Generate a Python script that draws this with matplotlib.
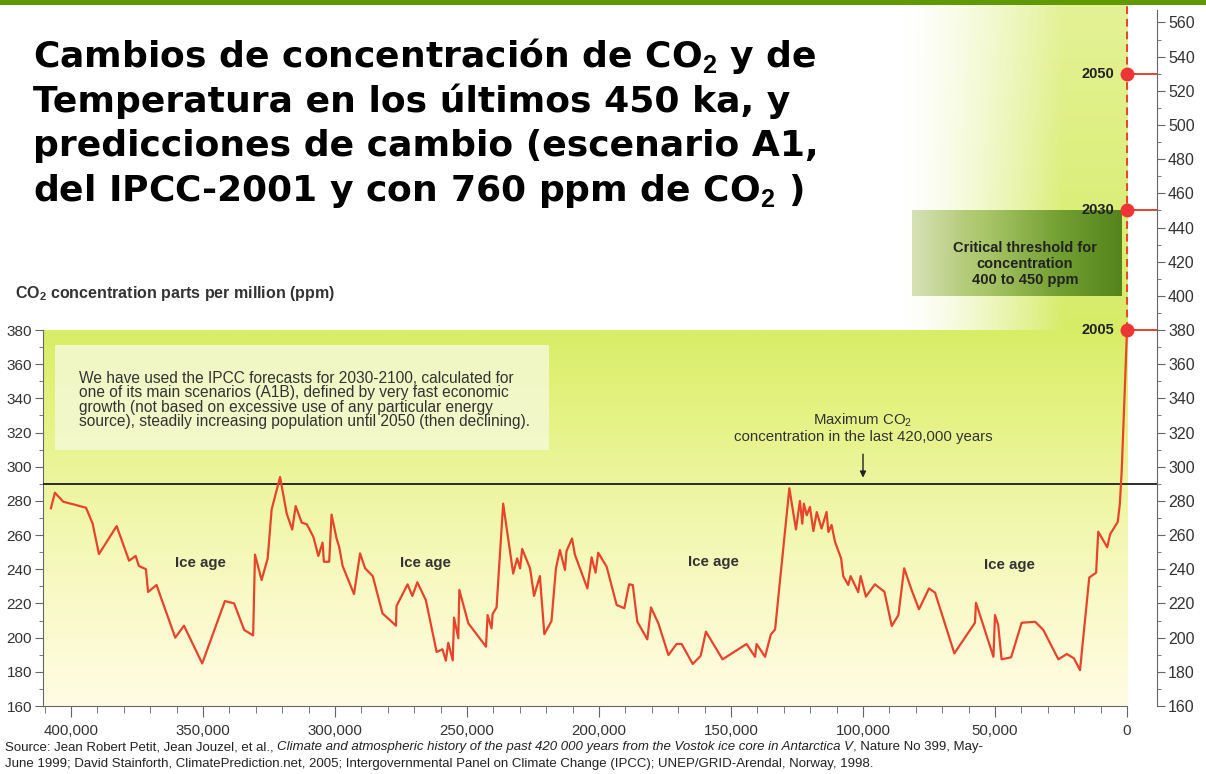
import numpy as np
import matplotlib.pyplot as plt
from matplotlib.patches import Rectangle
from matplotlib.ticker import FuncFormatter

plt.rcParams['font.family'] = ['Liberation Sans', 'DejaVu Sans']
plt.rcParams['mathtext.fontset'] = 'custom'
plt.rcParams['mathtext.rm'] = 'Liberation Sans'
plt.rcParams['mathtext.bf'] = 'Liberation Sans:bold'

# CO2 Vostok: miles de años antes del presente y ppm
kyr = [407.6, 406.1, 402.9, 399.1, 394.3, 391.8, 389.4, 382.7, 378.0, 375.5,
       374.3, 371.6, 370.8, 367.6, 360.5, 357.2, 350.3, 341.7, 338.2, 334.4,
       331.0, 330.3, 327.8, 325.5, 324.0, 320.8, 318.3, 316.2, 314.9, 312.6,
       310.7, 308.2, 306.3, 304.7, 304.2, 302.2, 301.3, 299.4, 298.4, 297.1,
       292.8, 290.5, 288.6, 285.7, 282.0, 276.9, 276.7, 272.5, 270.7, 268.8,
       265.6, 261.5, 259.3, 258.0, 257.1, 255.4, 254.9, 253.3, 252.9, 249.5,
       242.8, 242.2, 240.7, 240.3, 238.8, 236.3, 232.5, 231.0, 229.9, 229.1,
       226.1, 224.6, 222.4, 220.7, 218.0, 216.3, 214.8, 212.9, 212.3, 210.2,
       209.1, 204.4, 202.8, 201.3, 200.3, 197.1, 193.3, 190.4, 188.6, 187.2,
       185.5, 181.7, 180.3, 177.5, 173.7, 170.6, 168.7, 164.5, 161.5, 159.5,
       153.2, 144.1, 140.9, 140.3, 137.1, 134.9, 133.3, 127.9, 125.4, 123.9,
       123.0, 122.4, 121.3, 120.1, 118.8, 117.5, 115.7, 113.8, 113.1, 111.9,
       110.6, 108.3, 107.5, 105.6, 104.7, 101.8, 100.9, 98.9, 95.5, 91.9,
       89.1, 86.6, 84.4, 81.6, 78.8, 75.0, 72.7, 65.4, 57.6, 57.2,
       50.6, 50.0, 48.8, 47.5, 43.9, 39.9, 34.8, 31.7, 26.0, 22.8,
       20.1, 17.8, 14.3, 11.7, 10.9, 7.5, 6.4, 3.5, 2.7, 2.0, 0.0]
co2 = [275.7, 284.8, 279.5, 278.0, 276.0, 266.7, 248.9, 265.3, 245.0, 247.8,
       242.0, 240.0, 226.7, 230.8, 200.0, 207.0, 184.9, 221.4, 220.0, 204.5,
       201.3, 248.6, 233.7, 246.4, 275.0, 294.0, 272.7, 263.2, 277.0, 267.3,
       266.4, 259.0, 247.8, 255.6, 244.4, 244.4, 272.0, 258.0, 253.0, 241.9,
       225.5, 249.3, 240.6, 236.0, 214.2, 207.0, 218.5, 231.2, 224.4, 232.4,
       222.0, 191.6, 193.2, 186.5, 197.0, 186.7, 211.7, 199.6, 227.9, 208.4,
       194.7, 213.2, 205.4, 213.8, 217.7, 278.4, 237.5, 246.4, 240.5, 251.9,
       240.5, 224.4, 236.0, 202.0, 209.7, 240.6, 251.3, 239.6, 250.7, 258.0,
       248.4, 228.8, 247.0, 238.0, 249.7, 241.5, 219.1, 217.2, 231.2, 230.8,
       209.4, 199.0, 217.7, 208.3, 189.8, 196.3, 196.3, 184.6, 189.3, 203.5,
       187.3, 196.3, 188.8, 196.3, 188.8, 201.9, 204.8, 287.4, 263.3, 280.0,
       266.7, 278.4, 271.6, 276.5, 262.4, 273.5, 263.8, 273.5, 261.8, 265.9,
       256.0, 246.4, 236.0, 230.8, 236.0, 226.6, 236.0, 224.0, 231.2, 226.9,
       206.8, 213.2, 240.6, 227.9, 216.6, 228.8, 226.3, 190.8, 208.7, 220.4,
       188.8, 213.2, 207.4, 187.3, 188.5, 208.7, 209.3, 204.5, 187.3, 190.4,
       187.9, 181.0, 235.2, 238.0, 262.0, 252.9, 260.5, 267.8, 278.6, 298.0, 380.0]

# predicciones IPCC (A1B)
pred_year = [2005, 2030, 2050]
pred_co2 = [380, 450, 530]
pred_x = [-(y - 2005) / 1000 for y in pred_year]

max_co2 = 290
umbral = (400, 450)
ice_age_x = [351.1, 265.9, 156.8, 44.7]
ice_age_y = [243.4, 243.4, 244.3, 242.5]

W, H = 1206, 774
fig = plt.figure(figsize=(W / 100, H / 100), dpi=100)
fig.patch.set_facecolor('white')

XL, XR, YB, YT = 410.6, -11.36, 160, 570.2
ax = fig.add_axes([43 / W, 1 - 706 / H, (1157 - 43) / W, (706 - 5) / H])


def grad(stops, n=256):
    t = np.linspace(0, 1, n)
    pos = [s[0] for s in stops]
    cols = np.array([s[1] for s in stops]) / 255
    return np.stack([np.interp(t, pos, cols[:, i]) for i in range(cols.shape[1])], axis=1)


# fondo degradado de la zona de datos
low = grad([(0, (255, 252, 228)), (0.28, (249, 250, 200)), (0.55, (238, 246, 165)),
            (0.8, (228, 242, 128)), (1, (216, 237, 102))])
ax.imshow(low[:, None, :], extent=[XL, 0, YB, 380], origin='lower', aspect='auto', zorder=0)

# degradado superior derecho
up = grad([(0, (214, 236, 104)), (1, (228, 242, 150))], 64)
alpha = np.clip(np.linspace(0, 1, 200) / 0.72, 0, 1) ** 1.4
up_img = np.zeros((64, 200, 4))
up_img[:, :, :3] = up[:, None, :]
up_img[:, :, 3] = alpha[None, :]
ax.imshow(up_img, extent=[86, 0, 380, YT], origin='lower', aspect='auto', zorder=0)

# umbral crítico
box = grad([(0, (205, 218, 165)), (0.35, (170, 198, 105)), (0.7, (115, 160, 50)), (1, (84, 132, 28))], 200)
box_img = np.zeros((2, 200, 4))
box_img[:, :, :3] = box[None, :, :]
box_img[:, :, 3] = np.clip(np.linspace(0.8, 1.6, 200), 0, 1)[None, :]
ax.imshow(box_img, extent=[81.4, 1.9, umbral[0], umbral[1]], origin='lower', aspect='auto', zorder=1)

ax.add_patch(Rectangle((219, 309.8), 187, 61.4, facecolor=(0.955, 0.978, 0.83),
                       alpha=0.85, edgecolor='none', zorder=1))

ax.axhline(max_co2, color='#1e1e1e', lw=1.3, zorder=3)
ax.plot(kyr, co2, color='#e8432b', lw=1.6, zorder=4)
ax.plot([pred_x[0], pred_x[0]], [pred_co2[0], YT], color='#e8432b', lw=1.4,
        ls=(0, (4, 2.5)), zorder=4)
ax.hlines(pred_co2, pred_x, XR, color='#e8432b', lw=1.4, zorder=4)
ax.plot(pred_x, pred_co2, 'o', color='#ee3535', ms=9, zorder=5, clip_on=False)
for yr, xx, yy in zip(pred_year, pred_x, pred_co2):
    ax.annotate(str(yr), (xx, yy), xytext=(-9, 0), textcoords='offset points',
                ha='right', va='center', fontsize=10.5, fontweight='bold', color='#222')

for xx, yy in zip(ice_age_x, ice_age_y):
    ax.text(xx, yy, 'Ice age', ha='center', va='center', fontsize=10.8,
            fontweight='bold', color='#333')

ax.text(38.6, 418.5, 'Critical threshold for\nconcentration\n400 to 450 ppm', ha='center',
        va='center', fontsize=10.5, fontweight='bold', color='#222', linespacing=1.2, zorder=3)

ax.text(100, 327.3, 'Maximum CO$_2$', ha='center', va='center', fontsize=10.8, color='#333')
ax.text(100, 317.4, 'concentration in the last 420,000 years', ha='center', va='center',
        fontsize=10.8, color='#333')
ax.annotate('', xy=(100, 292.0), xytext=(100, 309),
            arrowprops=dict(arrowstyle='-|>', color='#222', lw=1, mutation_scale=9))

ax.text(397, 339.1, 'We have used the IPCC forecasts for 2030-2100, calculated for\n'
        'one of its main scenarios (A1B), defined by very fast economic\n'
        'growth (not based on excessive use of any particular energy\n'
        'source), steadily increasing population until 2050 (then declining).',
        ha='left', va='center', fontsize=11.2, color='#333', linespacing=0.95, zorder=2)

ax.set_xlim(XL, XR)
ax.set_ylim(YB, YT)

# ejes
for s in ['top', 'right']:
    ax.spines[s].set_visible(False)
ax.spines['left'].set_bounds(160, 380)
ax.spines['bottom'].set_bounds(0, XL)
for s in ['left', 'bottom']:
    ax.spines[s].set_color('#666')
ax.set_yticks(np.arange(160, 381, 20))
ax.set_yticks(np.arange(170, 380, 20), minor=True)
ax.set_xticks(np.arange(0, 401, 50))
ax.set_xticks(np.arange(10, 411, 10), minor=True)
ax.xaxis.set_major_formatter(FuncFormatter(lambda v, p: f'{int(round(v * 1000)):,}'))
ax.tick_params(which='both', color='#666', labelcolor='#333')
ax.tick_params(axis='y', which='major', length=6, labelsize=11, pad=2)
ax.tick_params(axis='y', which='minor', length=3)
ax.tick_params(axis='x', which='major', length=8, labelsize=10.8, pad=5)
ax.tick_params(axis='x', which='minor', length=5)

ax2 = ax.twinx()
ax2.set_ylim(YB, YT)
for s in ['top', 'left', 'bottom']:
    ax2.spines[s].set_visible(False)
ax2.spines['right'].set_bounds(160, 567)
ax2.spines['right'].set_color('#666')
ax2.set_yticks(np.arange(160, 561, 20))
ax2.set_yticks(np.arange(170, 561, 20), minor=True)
ax2.tick_params(which='both', color='#666', labelcolor='#333')
ax2.tick_params(which='major', length=6, labelsize=11.5, pad=2)
ax2.tick_params(which='minor', length=3)

# textos de la figura
fig.patches.append(Rectangle((0, 1 - 5 / H), 1, 5 / H, transform=fig.transFigure,
                             facecolor='#5f9a06', edgecolor='none'))
titulo = ['Cambios de concentración de CO$_\\mathbf{2}$ y de',
          'Temperatura en los últimos 450 ka, y',
          'predicciones de cambio (escenario A1,',
          'del IPCC-2001 y con 760 ppm de CO$_\\mathbf{2}$ )']
for i, t in enumerate(titulo):
    fig.text(33 / W, 1 - (67 + 44.7 * i) / H, t, fontsize=26, fontweight='bold',
             family=['DejaVu Sans'], va='baseline', color='black')

fig.text(15 / W, 1 - 293 / H, 'CO$_\\mathbf{2}$ concentration parts per million (ppm)',
         fontsize=11.5, fontweight='bold', color='#333', va='center')

src = dict(fontsize=9.5, color='#222')
s1 = fig.text(5 / W, 1 - 750 / H, 'Source: Jean Robert Petit, Jean Jouzel, et al., ',
              va='baseline', **src)
s2 = ax.annotate('Climate and atmospheric history of the past 420 000 years from the Vostok ice core in Antarctica V',
                 xy=(1, 0), xycoords=s1, va='bottom', style='italic',
                 annotation_clip=False, **src)
ax.annotate(', Nature No 399, May-', xy=(1, 0), xycoords=s2, va='bottom',
            annotation_clip=False, **src)
fig.text(5 / W, 1 - 767 / H, 'June 1999; David Stainforth, ClimatePrediction.net, 2005; '
         'Intergovernmental Panel on Climate Change (IPCC); UNEP/GRID-Arendal, Norway, 1998.',
         va='baseline', **src)

fig.savefig('out.png', dpi=100)
